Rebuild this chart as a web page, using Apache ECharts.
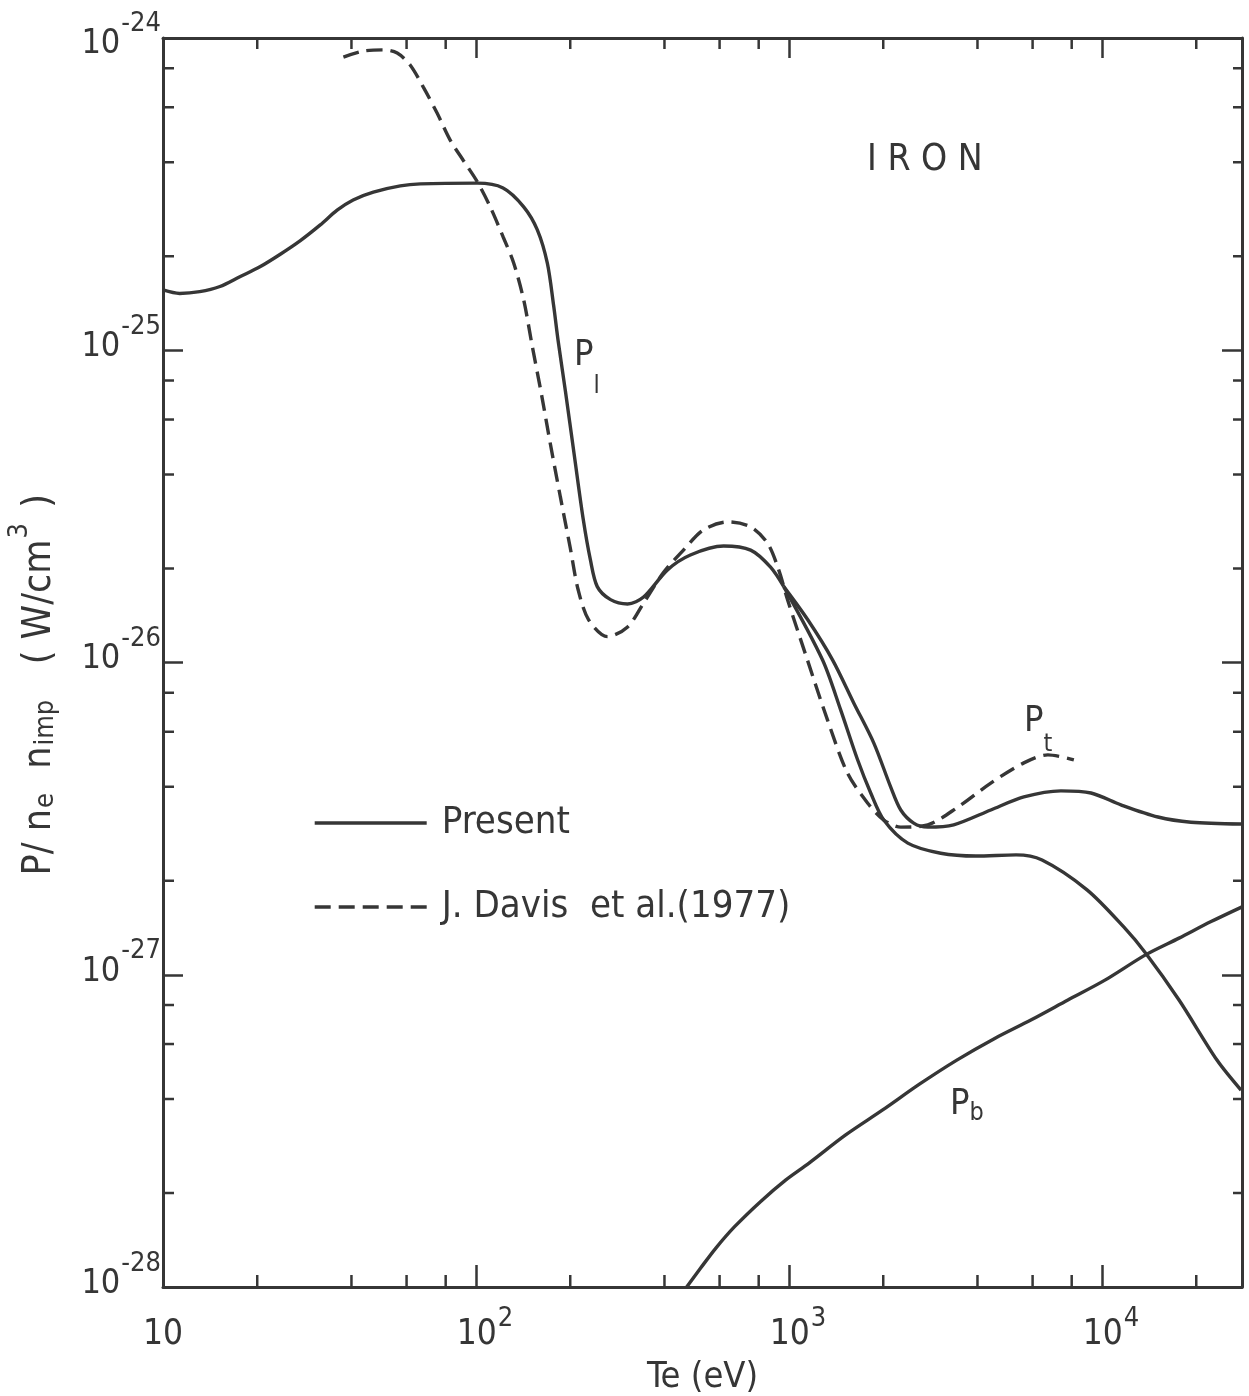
<!DOCTYPE html>
<html>
<head>
<meta charset="utf-8">
<title>IRON - radiation loss</title>
<script src="https://cdn.jsdelivr.net/npm/echarts@6/dist/echarts.min.js"></script>
<style>
  html, body { margin: 0; padding: 0; background: #fff; }
  #chart { width: 1249px; height: 1396px; }
</style>
</head>
<body>
<div id="chart"></div>
<script>
// Te (eV) and P/(ne nimp) (W/cm^3)

// present calculation, common part of P_l and P_t (they split near 1 keV)
const commonTe = [10, 11.3, 13.1, 15.2, 17.6, 20.4, 23.7, 27.4, 31.8, 36.0, 40.5, 47.0, 57.3, 66.4, 101, 122, 142, 157, 169, 177, 183, 193, 206, 220, 232, 244, 269, 305, 343, 409, 484, 618, 754, 873, 962];
const commonP = [1.56e-25, 1.52e-25, 1.54e-25, 1.60e-25, 1.72e-25, 1.85e-25, 2.03e-25, 2.24e-25, 2.52e-25, 2.81e-25, 3.03e-25, 3.21e-25, 3.36e-25, 3.41e-25, 3.43e-25, 3.31e-25, 2.88e-25, 2.43e-25, 1.90e-25, 1.39e-25, 1.07e-25, 7.40e-26, 4.62e-26, 2.88e-26, 2.13e-26, 1.75e-26, 1.59e-26, 1.54e-26, 1.62e-26, 1.98e-26, 2.21e-26, 2.36e-26, 2.29e-26, 2.02e-26, 1.75e-26];

// total P_t above 1 keV
const totalTe = [962, 1148, 1377, 1611, 1866, 2113, 2275, 2502, 2775, 3357, 4412, 5626, 7389, 9221, 11490, 15090, 19240, 27800];
const totalP = [1.75e-26, 1.37e-26, 1.02e-26, 7.41e-27, 5.52e-27, 3.99e-27, 3.37e-27, 3.06e-27, 2.97e-27, 3.02e-27, 3.37e-27, 3.71e-27, 3.88e-27, 3.82e-27, 3.50e-27, 3.20e-27, 3.08e-27, 3.04e-27];

// line radiation P_l above 1 keV
const lineTe = [962, 1279, 1462, 1656, 1824, 2008, 2396, 3053, 3955, 5311, 6433, 8954, 11750, 13810, 17620, 23290, 27800];
const lineP = [1.75e-26, 1.02e-26, 7.05e-27, 4.88e-27, 3.82e-27, 3.13e-27, 2.64e-27, 2.45e-27, 2.40e-27, 2.42e-27, 2.33e-27, 1.87e-27, 1.42e-27, 1.17e-27, 8.30e-28, 5.33e-28, 4.27e-28];

// bremsstrahlung P_b
const bremTe = [471, 522, 583, 670, 812, 975, 1156, 1517, 1992, 2617, 3436, 4511, 5924, 7780, 10216, 13813, 17620, 22300, 28020];
const bremP = [1.0e-28, 1.15e-28, 1.33e-28, 1.56e-28, 1.88e-28, 2.20e-28, 2.49e-28, 3.07e-28, 3.69e-28, 4.47e-28, 5.33e-28, 6.23e-28, 7.16e-28, 8.30e-28, 9.61e-28, 1.16e-27, 1.31e-27, 1.48e-27, 1.65e-27];

// J. Davis et al. (1977)
const davisTe = [37.7, 43.6, 50.6, 56.0, 61.6, 67.8, 75.1, 82.7, 91.0, 101, 111, 122, 132, 142, 151, 162, 173, 186, 200, 212, 229, 263, 305, 343, 397, 460, 533, 637, 754, 854, 927, 991, 1130, 1327, 1538, 1782, 2008, 2275, 2775, 3459, 4412, 5626, 6714, 8128];
const davisP = [8.69e-25, 9.08e-25, 9.16e-25, 8.95e-25, 8.19e-25, 6.97e-25, 5.75e-25, 4.71e-25, 4.06e-25, 3.46e-25, 2.88e-25, 2.31e-25, 1.90e-25, 1.45e-25, 1.04e-25, 7.19e-26, 4.98e-26, 3.39e-26, 2.33e-26, 1.71e-26, 1.37e-26, 1.21e-26, 1.30e-26, 1.55e-26, 1.94e-26, 2.29e-26, 2.66e-26, 2.82e-26, 2.72e-26, 2.41e-26, 1.98e-26, 1.58e-26, 1.06e-26, 6.55e-27, 4.42e-27, 3.55e-27, 3.13e-27, 2.97e-27, 3.02e-27, 3.44e-27, 4.11e-27, 4.77e-27, 5.06e-27, 4.88e-27];

// axis range and minor tick positions
const teRange = [10, 28000];
const pRange = [1e-28, 1e-24];
const teMinorTicks = [20, 40, 60, 80, 200, 400, 600, 800, 2000, 4000, 6000, 8000, 20000];
const pMinorTicks = [2e-28, 4e-28, 6e-28, 8e-28, 2e-27, 4e-27, 6e-27, 8e-27, 2e-26, 4e-26, 6e-26, 8e-26, 2e-25, 4e-25, 6e-25, 8e-25];

const LEGEND_PRESENT = 'Present';
const LEGEND_DAVIS = 'J. Davis  et al.(1977)';

// echarts log scale rounds very small tick values to 0, so plot P in units of 1e-28 W/cm3
const P_UNIT = 1e-28;
const P_EXP = -28;
const toP = v => v / P_UNIT;
const pairs = (te, p) => te.map((t, i) => [t, toP(p[i])]);

const ink = '#363636';
const FONT = "'Liberation Sans Narrow', 'DejaVu Sans Condensed', 'DejaVu Sans', sans-serif";

const isDecade = v => Math.abs(Math.log10(v) - Math.round(Math.log10(v))) < 1e-6;

const xRich = {
  b: { fontSize: 35, lineHeight: 44, verticalAlign: 'bottom', color: ink, fontFamily: FONT },
  p: { fontSize: 35, lineHeight: 44, verticalAlign: 'bottom', color: ink, fontFamily: FONT, padding: [0, 0, 0, 18] },
  s: { fontSize: 27, lineHeight: 27, verticalAlign: 'bottom', color: ink, fontFamily: FONT, padding: [0, 0, 20, 1] },
};
const yRich = {
  b: { fontSize: 34, lineHeight: 42, verticalAlign: 'bottom', color: ink, fontFamily: FONT },
  s: { fontSize: 27, lineHeight: 27, verticalAlign: 'bottom', color: ink, fontFamily: FONT, padding: [0, 0, 24, 1] },
  // empty spacer line, the top label sits a little lower in the original
  g: { fontSize: 10, lineHeight: 18, color: 'transparent' },
};

const lineSeries = (name, data, dashed) => ({
  name,
  type: 'line',
  data,
  showSymbol: false,
  symbol: 'none',
  smooth: 0.3,
  silent: true,
  lineStyle: { color: ink, width: 3.4, type: dashed ? [16, 8] : 'solid' },
  itemStyle: { color: ink },
  z: 3,
});

const tickLine = (x1, y1, x2, y2) => ({
  type: 'line',
  shape: { x1, y1, x2, y2 },
  style: { stroke: ink, lineWidth: 2.5 },
});

const subLabel = (main, sub, dy) => ({
  text: '{m|' + main + '}{s|' + sub + '}',
  rich: {
    m: { fontSize: 36, lineHeight: 40, verticalAlign: 'top', fill: ink, fontFamily: FONT },
    s: { fontSize: 25, lineHeight: 25, verticalAlign: 'top', fill: ink, fontFamily: FONT, padding: [dy, 0, 0, 0] },
  },
});

const chart = echarts.init(document.getElementById('chart'), null, { renderer: 'canvas' });

const option = {
  animation: false,
  backgroundColor: '#fff',
  grid: { left: 163, right: 7, top: 38, bottom: 109, outerBoundsMode: 'none' },
  legend: {
    data: [LEGEND_PRESENT, LEGEND_DAVIS],
    orient: 'vertical',
    left: 308,
    top: 796,
    itemWidth: 112,
    itemHeight: 20,
    itemGap: 40,
    selectedMode: false,
    itemStyle: { opacity: 0 },
    lineStyle: { width: 3.4 },
    textStyle: { fontSize: 38, lineHeight: 44, color: ink, fontFamily: FONT, padding: [0, 0, 0, 10] },
  },
  xAxis: [{
    type: 'log',
    logBase: 10,
    min: teRange[0],
    max: teRange[1],
    name: 'Te (eV)',
    nameLocation: 'middle',
    nameGap: 73,
    nameTextStyle: { fontSize: 36, color: ink, fontFamily: FONT },
    axisLine: { lineStyle: { color: ink, width: 3 } },
    axisTick: { inside: true, length: 22, lineStyle: { color: ink, width: 2.5 } },
    axisLabel: {
      margin: 21,
      formatter: v => {
        if (!isDecade(v)) return '';
        const e = Math.round(Math.log10(v));
        return e === 1 ? '{b|10}' : '{p|10}{s|' + e + '}';
      },
      rich: xRich,
    },
    splitLine: { show: false },
  }, {
    type: 'log',
    logBase: 10,
    position: 'top',
    min: teRange[0],
    max: teRange[1],
    axisLine: { lineStyle: { color: ink, width: 3 } },
    axisTick: { inside: true, length: 20, lineStyle: { color: ink, width: 2.5 } },
    axisLabel: { show: false },
    splitLine: { show: false },
  }],
  yAxis: [{
    type: 'log',
    logBase: 10,
    min: toP(pRange[0]),
    max: toP(pRange[1]),
    name: '{m|P/ n}{sub|e}{m|  n}{sub|imp}{m|   ( W/cm}{sup|3}{m| )}{m|    }',
    nameLocation: 'middle',
    nameRotate: 90,
    nameGap: 104,
    nameTextStyle: {
      rich: {
        m: { fontSize: 39, lineHeight: 48, verticalAlign: 'bottom', color: ink, fontFamily: FONT },
        sub: { fontSize: 27, lineHeight: 27, verticalAlign: 'bottom', color: ink, fontFamily: FONT, padding: [0, 2, 0, 1] },
        sup: { fontSize: 27, lineHeight: 27, verticalAlign: 'bottom', color: ink, fontFamily: FONT, padding: [0, 4, 26, 1] },
      },
    },
    axisLine: { lineStyle: { color: ink, width: 3 } },
    axisTick: { inside: true, length: 20, lineStyle: { color: ink, width: 2.5 } },
    axisLabel: {
      margin: 2,
      padding: [0, 0, 14, 0],
      formatter: v => {
        if (!isDecade(v)) return '';
        const e = Math.round(Math.log10(v)) + P_EXP;
        const text = '{b|10}{s|' + e + '}';
        return e === -24 ? '{g| }\n' + text : text;
      },
      rich: yRich,
    },
    splitLine: { show: false },
  }, {
    type: 'log',
    logBase: 10,
    position: 'right',
    min: toP(pRange[0]),
    max: toP(pRange[1]),
    axisLine: { lineStyle: { color: ink, width: 3 } },
    axisTick: { inside: true, length: 20, lineStyle: { color: ink, width: 2.5 } },
    axisLabel: { show: false },
    splitLine: { show: false },
  }],
  series: [
    lineSeries(LEGEND_PRESENT, pairs(commonTe, commonP), false),
    lineSeries(LEGEND_PRESENT, pairs(totalTe, totalP), false),
    lineSeries(LEGEND_PRESENT, pairs(lineTe, lineP), false),
    lineSeries(LEGEND_PRESENT, pairs(bremTe, bremP), false),
    lineSeries(LEGEND_DAVIS, pairs(davisTe, davisP), true),
    {
      // minor ticks on bottom and top
      type: 'custom',
      silent: true,
      clip: false,
      data: teMinorTicks.map(t => [t, toP(pRange[0])]),
      renderItem: (params, api) => {
        const cs = params.coordSys;
        const x = api.coord([api.value(0), api.value(1)])[0];
        const bottom = cs.y + cs.height;
        return {
          type: 'group',
          children: [tickLine(x, bottom, x, bottom - 12), tickLine(x, cs.y, x, cs.y + 11)],
        };
      },
    },
    {
      // minor ticks on left and right
      type: 'custom',
      silent: true,
      clip: false,
      data: pMinorTicks.map(p => [teRange[0], toP(p)]),
      renderItem: (params, api) => {
        const cs = params.coordSys;
        const y = api.coord([api.value(0), api.value(1)])[1];
        const right = cs.x + cs.width;
        return {
          type: 'group',
          children: [tickLine(cs.x, y, cs.x + 11, y), tickLine(right, y, right - 9, y)],
        };
      },
    },
  ],
  graphic: [
    {
      type: 'text', left: 867, top: 142,
      style: { text: 'I R O N', fontSize: 37, fill: ink, fontFamily: FONT },
    },
    { type: 'text', left: 574, top: 338, style: subLabel('P', 'l', 36) },
    { type: 'text', left: 1024, top: 704, style: subLabel('P', 't', 28) },
    { type: 'text', left: 950, top: 1087, style: subLabel('P', 'b', 14) },
  ],
};

chart.setOption(option);
window.addEventListener('resize', () => chart.resize());
</script>
</body>
</html>
